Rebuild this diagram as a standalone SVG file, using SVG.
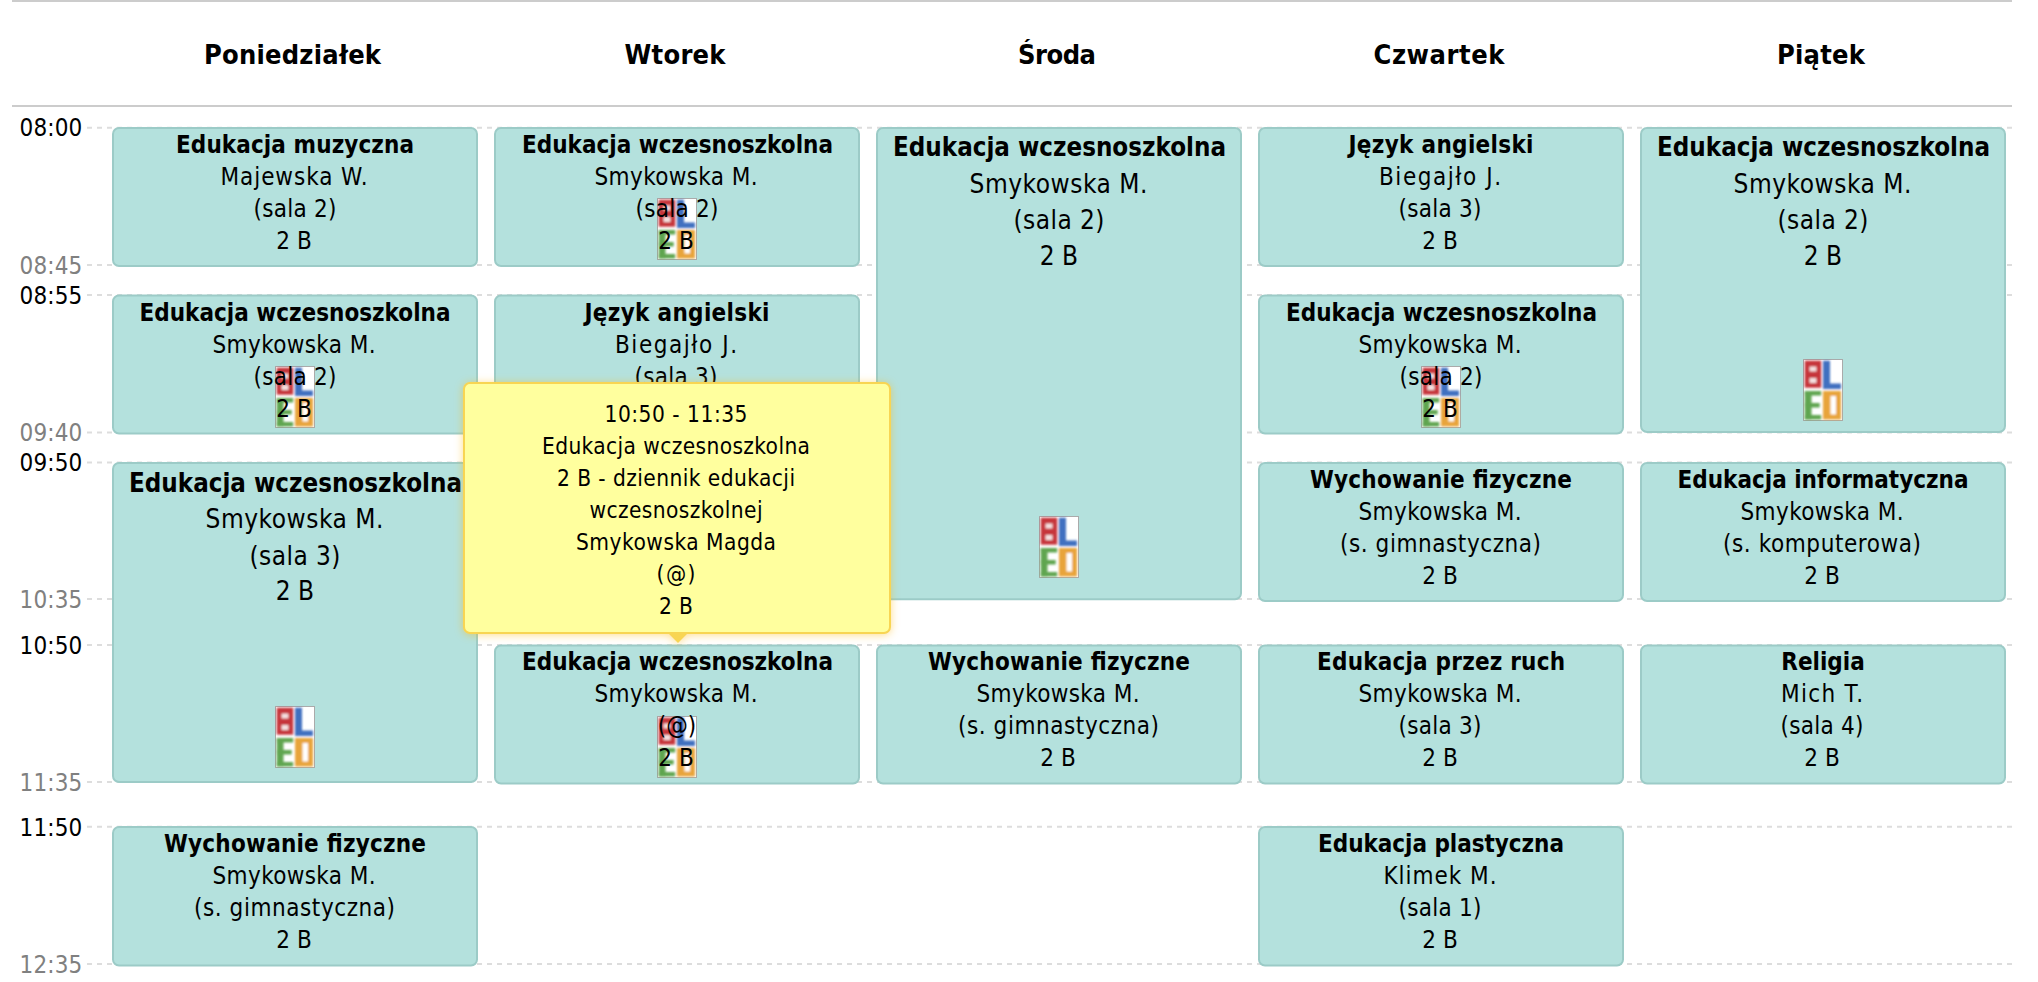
<svg xmlns="http://www.w3.org/2000/svg" width="2038" height="982" viewBox="0 0 2038 982">
<style>
text{font-family:"DejaVu Sans",sans-serif;font-stretch:condensed;fill:#000;text-anchor:middle}
.h{font-size:27px;font-weight:700}
.b{font-size:24px;font-weight:700}
.n{font-size:24px}
.B{font-size:25.7px;font-weight:700}
.N{font-size:26px}
.s{font-size:24px;text-anchor:end;letter-spacing:.15px}
.e{fill:#808080}
.c{fill:#b4e1dd;stroke:#9ccbc7;stroke-width:2}
.d{stroke:#ddd;stroke-width:2;stroke-dasharray:5 5;fill:none}
.l{stroke:#ccc;stroke-width:2;fill:none}
.tn{font-size:22.5px}
</style>
<defs>
<filter id="bl" x="-10%" y="-10%" width="120%" height="120%"><feGaussianBlur stdDeviation="0.8"/></filter>
<filter id="gl" x="-10%" y="-10%" width="120%" height="120%"><feDropShadow dx="0" dy="1" stdDeviation="4" flood-color="#ffb400" flood-opacity=".45"/></filter>
<symbol id="logo" width="40" height="62" viewBox="0 0 40 62">
<rect x=".5" y=".5" width="39" height="61" fill="#fff" stroke="#aaa"/>
<g filter="url(#bl)">
<rect x="1.7" y="1.7" width="16.5" height="27" fill="#c6353a"/><rect x="6.5" y="7.5" width="7" height="5" fill="#f4e0e0"/><rect x="6.5" y="19" width="7" height="5" fill="#f4e0e0"/>
<rect x="20" y="1.7" width="7" height="28" fill="#3f6fc0"/><rect x="20" y="24.5" width="18" height="5.5" fill="#3f6fc0"/>
<rect x="1.7" y="32" width="6.8" height="28.5" fill="#5ea550"/><rect x="1.7" y="32" width="16.5" height="4.5" fill="#5ea550"/><rect x="1.7" y="44" width="15" height="4.5" fill="#5ea550"/><rect x="1.7" y="56" width="16.5" height="4.5" fill="#5ea550"/>
<rect x="20" y="32" width="18" height="28.5" fill="#e8a43a"/><rect x="27.5" y="37" width="5.5" height="18.5" fill="#fff"/>
</g></symbol>
</defs>
<rect width="2038" height="982" fill="#fff"/>
<g id="connectors">
<path class="l" d="M12 1H2012M12 106H2012"/>
<path class="d" d="M87 127.7H2012M87 265H2012M87 295H2012M87 432.5H2012M87 462.5H2012M87 599H2012M87 645H2012M87 782H2012M87 826.7H2012M87 964H2012"/>
</g>
<g id="days">
<text class="h" x="292.5" y="64" textLength="177">Poniedziałek</text>
<text class="h" x="675" y="64" textLength="101">Wtorek</text>
<text class="h" x="1057" y="64" textLength="78">Środa</text>
<text class="h" x="1439" y="64" textLength="131">Czwartek</text>
<text class="h" x="1821" y="64" textLength="88">Piątek</text>
</g>
<g id="times">
<text class="s" x="82.5" y="136">08:00</text>
<text class="s e" x="82.5" y="273.5">08:45</text>
<text class="s" x="82.5" y="303.5">08:55</text>
<text class="s e" x="82.5" y="441">09:40</text>
<text class="s" x="82.5" y="471">09:50</text>
<text class="s e" x="82.5" y="607.5">10:35</text>
<text class="s" x="82.5" y="653.5">10:50</text>
<text class="s e" x="82.5" y="790.5">11:35</text>
<text class="s" x="82.5" y="835.5">11:50</text>
<text class="s e" x="82.5" y="972.5">12:35</text>
</g>
<g id="mon1"><rect class="c" x="113" y="128" width="364" height="138" rx="6"/>
<text class="b" x="295" y="152.5" textLength="238">Edukacja muzyczna</text><text class="n" x="294" y="184.5" textLength="147">Majewska W.</text><text class="n" x="295" y="216.5" textLength="83">(sala 2)</text><text class="n" x="294" y="248.5">2 B</text></g>
<g id="mon2"><rect class="c" x="113" y="295.5" width="364" height="138" rx="6"/><use href="#logo" x="275" y="366"/>
<text class="b" x="295" y="320.5" textLength="311">Edukacja wczesnoszkolna</text><text class="n" x="294" y="352.5" textLength="163">Smykowska M.</text><text class="n" x="295" y="384.5" textLength="83">(sala 2)</text><text class="n" x="294" y="416.5">2 B</text></g>
<g id="mon3"><rect class="c" x="113" y="463" width="364" height="319" rx="6"/><use href="#logo" x="275" y="706"/>
<text class="B" x="295.5" y="492">Edukacja wczesnoszkolna</text><text class="N" x="294.5" y="528" textLength="178">Smykowska M.</text><text class="N" x="295" y="565" textLength="91">(sala 3)</text><text class="N" x="295" y="600">2 B</text></g>
<g id="mon4"><rect class="c" x="113" y="827" width="364" height="138.5" rx="6"/>
<text class="b" x="295" y="852" textLength="262">Wychowanie fizyczne</text><text class="n" x="294" y="884" textLength="163">Smykowska M.</text><text class="n" x="294.5" y="916" textLength="201">(s. gimnastyczna)</text><text class="n" x="294" y="948">2 B</text></g>

<g id="tue1"><rect class="c" x="495" y="128" width="364" height="138" rx="6"/><use href="#logo" x="657" y="198"/>
<text class="b" x="677.5" y="152.5" textLength="311">Edukacja wczesnoszkolna</text><text class="n" x="676" y="184.5" textLength="163">Smykowska M.</text><text class="n" x="677" y="216.5" textLength="83">(sala 2)</text><text class="n" x="676" y="248.5">2 B</text></g>
<g id="tue2"><rect class="c" x="495" y="295.5" width="364" height="138" rx="6"/>
<text class="b" x="677" y="320.5" textLength="185">Język angielski</text><text class="n" x="676" y="352.5" textLength="122">Biegajło J.</text><text class="n" x="676" y="384.5" textLength="83">(sala 3)</text></g>
<g id="tue4"><rect class="c" x="495" y="645.5" width="364" height="138" rx="6"/><use href="#logo" x="657" y="716"/>
<text class="b" x="677.5" y="670" textLength="311">Edukacja wczesnoszkolna</text><text class="n" x="676" y="702" textLength="163">Smykowska M.</text><text class="n" x="677" y="734">(@)</text><text class="n" x="676" y="766">2 B</text></g>

<g id="wed1"><rect class="c" x="877" y="128" width="364" height="471.3" rx="6"/><use href="#logo" x="1039" y="516"/>
<text class="B" x="1059.5" y="156">Edukacja wczesnoszkolna</text><text class="N" x="1058.5" y="193" textLength="178">Smykowska M.</text><text class="N" x="1059" y="229" textLength="91">(sala 2)</text><text class="N" x="1059" y="265">2 B</text></g>
<g id="wed4"><rect class="c" x="877" y="645.5" width="364" height="138" rx="6"/>
<text class="b" x="1059" y="670" textLength="262">Wychowanie fizyczne</text><text class="n" x="1058" y="702" textLength="163">Smykowska M.</text><text class="n" x="1058.5" y="734" textLength="201">(s. gimnastyczna)</text><text class="n" x="1058" y="766">2 B</text></g>

<g id="thu1"><rect class="c" x="1259" y="128" width="364" height="138" rx="6"/>
<text class="b" x="1441" y="152.5" textLength="185">Język angielski</text><text class="n" x="1440" y="184.5" textLength="122">Biegajło J.</text><text class="n" x="1440" y="216.5" textLength="83">(sala 3)</text><text class="n" x="1440" y="248.5">2 B</text></g>
<g id="thu2"><rect class="c" x="1259" y="295.5" width="364" height="138" rx="6"/><use href="#logo" x="1421" y="366"/>
<text class="b" x="1441.5" y="320.5" textLength="311">Edukacja wczesnoszkolna</text><text class="n" x="1440" y="352.5" textLength="163">Smykowska M.</text><text class="n" x="1441" y="384.5" textLength="83">(sala 2)</text><text class="n" x="1440" y="416.5">2 B</text></g>
<g id="thu3"><rect class="c" x="1259" y="463" width="364" height="138" rx="6"/>
<text class="b" x="1441" y="488" textLength="262">Wychowanie fizyczne</text><text class="n" x="1440" y="520" textLength="163">Smykowska M.</text><text class="n" x="1440.5" y="552" textLength="201">(s. gimnastyczna)</text><text class="n" x="1440" y="584">2 B</text></g>
<g id="thu4"><rect class="c" x="1259" y="645.5" width="364" height="138" rx="6"/>
<text class="b" x="1441" y="670" textLength="248">Edukacja przez ruch</text><text class="n" x="1440" y="702" textLength="163">Smykowska M.</text><text class="n" x="1440" y="734" textLength="83">(sala 3)</text><text class="n" x="1440" y="766">2 B</text></g>
<g id="thu5"><rect class="c" x="1259" y="827" width="364" height="138.5" rx="6"/>
<text class="b" x="1441" y="852" textLength="246">Edukacja plastyczna</text><text class="n" x="1440" y="884" textLength="113">Klimek M.</text><text class="n" x="1440" y="916" textLength="83">(sala 1)</text><text class="n" x="1440" y="948">2 B</text></g>

<g id="fri1"><rect class="c" x="1641" y="128" width="364" height="304" rx="6"/><use href="#logo" x="1803" y="359"/>
<text class="B" x="1823.5" y="156">Edukacja wczesnoszkolna</text><text class="N" x="1822.5" y="193" textLength="178">Smykowska M.</text><text class="N" x="1823" y="229" textLength="91">(sala 2)</text><text class="N" x="1823" y="265">2 B</text></g>
<g id="fri3"><rect class="c" x="1641" y="463" width="364" height="138" rx="6"/>
<text class="b" x="1823" y="488" textLength="291">Edukacja informatyczna</text><text class="n" x="1822" y="520" textLength="163">Smykowska M.</text><text class="n" x="1822" y="552" textLength="198">(s. komputerowa)</text><text class="n" x="1822" y="584">2 B</text></g>
<g id="fri4"><rect class="c" x="1641" y="645.5" width="364" height="138" rx="6"/>
<text class="b" x="1823" y="670">Religia</text><text class="n" x="1822" y="702" textLength="82">Mich T.</text><text class="n" x="1822" y="734" textLength="83">(sala 4)</text><text class="n" x="1822" y="766">2 B</text></g>

<g id="tooltip">
<g filter="url(#gl)"><path d="M668 633h20l-10 10z" fill="#f8d552"/><rect x="464" y="383" width="426" height="250" rx="6" fill="#ffff9e" stroke="#f8d552" stroke-width="2"/></g>
<text class="tn" x="676" y="422" textLength="143">10:50 - 11:35</text><text class="tn" x="676" y="454" textLength="268">Edukacja wczesnoszkolna</text><text class="tn" x="676" y="486" textLength="238">2 B - dziennik edukacji</text><text class="tn" x="676" y="518" textLength="173">wczesnoszkolnej</text><text class="tn" x="676" y="550" textLength="200">Smykowska Magda</text><text class="tn" x="676" y="582" textLength="39">(@)</text><text class="tn" x="676" y="614" textLength="34">2 B</text>
</g>
</svg>
